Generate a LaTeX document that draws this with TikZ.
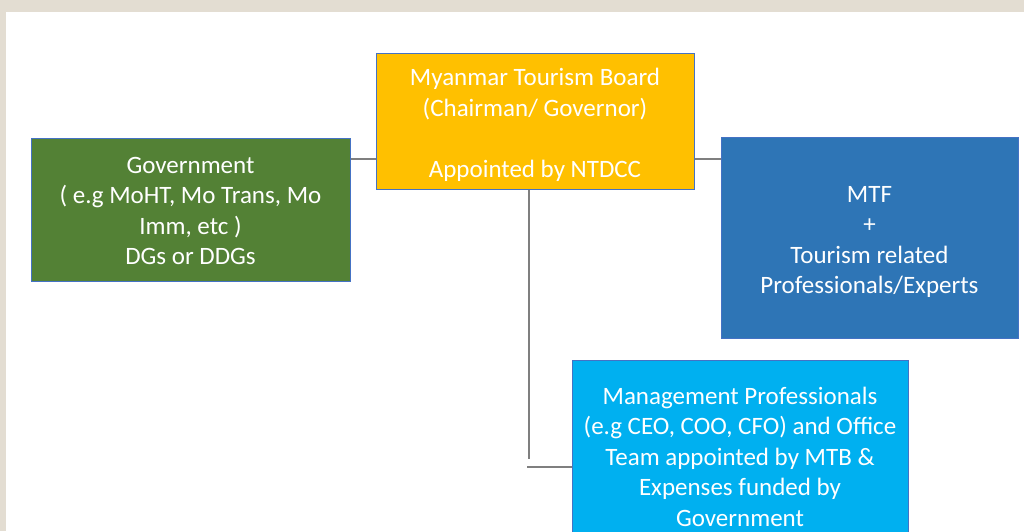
\documentclass[tikz,border=0pt]{standalone}
\usepackage{fontspec}
\setmainfont{Carlito}
\definecolor{beige}{HTML}{E3DDD2}
\definecolor{bordblue}{HTML}{4472C4}
\definecolor{govgreen}{HTML}{538135}
\definecolor{mtbyellow}{HTML}{FFC000}
\definecolor{mtfblue}{HTML}{2E75B6}
\definecolor{mgmtcyan}{HTML}{00B0F0}
\definecolor{lineg}{HTML}{7F7F7F}
\newcommand\topstrut[1]{\rule{0pt}{#1}}
\begin{document}
\begin{tikzpicture}[x=1pt,y=-1pt,
  box/.style={draw=bordblue, line width=1pt, text=white, align=center, inner sep=0pt,
    font=\fontsize{25}{30.5}\selectfont},
  conn/.style={draw=lineg, line width=2pt}]
\useasboundingbox (0,0) rectangle (1024,531);
\fill[beige] (0,0) rectangle (1024,531);
\fill[white] (6,12) rectangle (1024,531);
\clip (0,0) rectangle (1024,531);
\node[box, fill=govgreen, minimum width=319pt, minimum height=143pt] (gov) at (190.5,209.5)
  {\topstrut{19pt}Government\\( e.g MoHT, Mo Trans, Mo\\Imm, etc )\\DGs or DDGs};
\node[box, fill=mtbyellow, minimum width=318pt, minimum height=136pt] (mtb) at (535,121)
  {\topstrut{25pt}Myanmar Tourism Board\\(Chairman/ Governor)\\\mbox{}\\Appointed by NTDCC};
\node[box, fill=mtfblue, minimum width=297pt, minimum height=201pt] (mtf) at (869.5,237.5)
  {\topstrut{25pt}MTF\\+\\Tourism related\\Professionals/Experts};
\node[box, fill=mgmtcyan, minimum width=336pt, minimum height=193pt] (mgmt) at (740,456.5)
  {Management Professionals\\(e.g CEO, COO, CFO) and Office\\Team appointed by MTB \&\\Expenses funded by\\Government};
\coordinate (h) at (0,159);
\coordinate (v) at (529,459);
\coordinate (hb) at (527,467);
\draw[conn] (gov.east |- h) -- (mtb.west |- h);
\draw[conn] (mtb.east |- h) -- (mtf.west |- h);
\draw[conn] (mtb.south -| v) -- (v);
\draw[conn] (hb) -- (mgmt.west |- hb);
\end{tikzpicture}
\end{document}
